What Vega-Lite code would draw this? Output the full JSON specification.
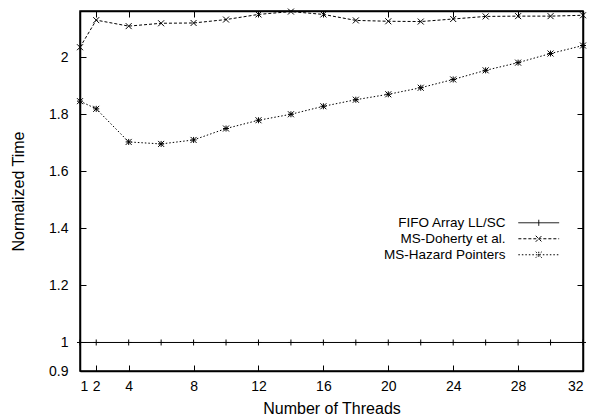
{
  "$schema": "https://vega.github.io/schema/vega-lite/v6.json",
  "width": 503,
  "height": 360,
  "autosize": "none",
  "padding": {"left": 80, "top": 11, "right": 13, "bottom": 44},
  "background": "white",
  "config": {
    "view": {"stroke": "black", "strokeWidth": 1.5},
    "font": "Liberation Sans",
    "axis": {"grid": false, "domainColor": "black", "tickColor": "black", "labelColor": "black", "titleColor": "black", "labelFont": "Liberation Sans", "titleFont": "Liberation Sans", "labelFontSize": 14, "titleFontSize": 16, "titleFontWeight": "normal", "tickSize": -6, "domainWidth": 1.5, "tickWidth": 1}
  },
  "data": {
    "values": [
      {"threads": 1, "series": "FIFO Array LL/SC", "time": 1.0},
      {"threads": 2, "series": "FIFO Array LL/SC", "time": 1.0},
      {"threads": 4, "series": "FIFO Array LL/SC", "time": 1.0},
      {"threads": 6, "series": "FIFO Array LL/SC", "time": 1.0},
      {"threads": 8, "series": "FIFO Array LL/SC", "time": 1.0},
      {"threads": 10, "series": "FIFO Array LL/SC", "time": 1.0},
      {"threads": 12, "series": "FIFO Array LL/SC", "time": 1.0},
      {"threads": 14, "series": "FIFO Array LL/SC", "time": 1.0},
      {"threads": 16, "series": "FIFO Array LL/SC", "time": 1.0},
      {"threads": 18, "series": "FIFO Array LL/SC", "time": 1.0},
      {"threads": 20, "series": "FIFO Array LL/SC", "time": 1.0},
      {"threads": 22, "series": "FIFO Array LL/SC", "time": 1.0},
      {"threads": 24, "series": "FIFO Array LL/SC", "time": 1.0},
      {"threads": 26, "series": "FIFO Array LL/SC", "time": 1.0},
      {"threads": 28, "series": "FIFO Array LL/SC", "time": 1.0},
      {"threads": 30, "series": "FIFO Array LL/SC", "time": 1.0},
      {"threads": 32, "series": "FIFO Array LL/SC", "time": 1.0},
      {"threads": 1, "series": "MS-Doherty et al.", "time": 2.035},
      {"threads": 2, "series": "MS-Doherty et al.", "time": 2.13},
      {"threads": 4, "series": "MS-Doherty et al.", "time": 2.109},
      {"threads": 6, "series": "MS-Doherty et al.", "time": 2.119},
      {"threads": 8, "series": "MS-Doherty et al.", "time": 2.12},
      {"threads": 10, "series": "MS-Doherty et al.", "time": 2.132},
      {"threads": 12, "series": "MS-Doherty et al.", "time": 2.15},
      {"threads": 14, "series": "MS-Doherty et al.", "time": 2.16},
      {"threads": 16, "series": "MS-Doherty et al.", "time": 2.15},
      {"threads": 18, "series": "MS-Doherty et al.", "time": 2.129},
      {"threads": 20, "series": "MS-Doherty et al.", "time": 2.126},
      {"threads": 22, "series": "MS-Doherty et al.", "time": 2.125},
      {"threads": 24, "series": "MS-Doherty et al.", "time": 2.134},
      {"threads": 26, "series": "MS-Doherty et al.", "time": 2.143},
      {"threads": 28, "series": "MS-Doherty et al.", "time": 2.144},
      {"threads": 30, "series": "MS-Doherty et al.", "time": 2.144},
      {"threads": 32, "series": "MS-Doherty et al.", "time": 2.147},
      {"threads": 1, "series": "MS-Hazard Pointers", "time": 1.846},
      {"threads": 2, "series": "MS-Hazard Pointers", "time": 1.819},
      {"threads": 4, "series": "MS-Hazard Pointers", "time": 1.703},
      {"threads": 6, "series": "MS-Hazard Pointers", "time": 1.696},
      {"threads": 8, "series": "MS-Hazard Pointers", "time": 1.71},
      {"threads": 10, "series": "MS-Hazard Pointers", "time": 1.75},
      {"threads": 12, "series": "MS-Hazard Pointers", "time": 1.779},
      {"threads": 14, "series": "MS-Hazard Pointers", "time": 1.8},
      {"threads": 16, "series": "MS-Hazard Pointers", "time": 1.828},
      {"threads": 18, "series": "MS-Hazard Pointers", "time": 1.851},
      {"threads": 20, "series": "MS-Hazard Pointers", "time": 1.87},
      {"threads": 22, "series": "MS-Hazard Pointers", "time": 1.893},
      {"threads": 24, "series": "MS-Hazard Pointers", "time": 1.922},
      {"threads": 26, "series": "MS-Hazard Pointers", "time": 1.954},
      {"threads": 28, "series": "MS-Hazard Pointers", "time": 1.981},
      {"threads": 30, "series": "MS-Hazard Pointers", "time": 2.013},
      {"threads": 32, "series": "MS-Hazard Pointers", "time": 2.041}
    ]
  },
  "resolve": {"axis": {"x": "independent", "y": "independent"}},
  "layer": [
    {
      "mark": {"type": "line", "color": "black", "strokeWidth": 1},
      "encoding": {
        "x": {"field": "threads", "type": "quantitative", "scale": {"domain": [1, 32], "nice": false, "zero": false},
          "axis": {"orient": "bottom", "title": "Number of Threads", "values": [1, 2, 4, 8, 12, 16, 20, 24, 28, 32], "format": "d", "labelPadding": 25.7, "labelBaseline": "alphabetic", "titleY": 42, "titleBaseline": "alphabetic"}},
        "y": {"field": "time", "type": "quantitative", "scale": {"domain": [0.9, 2.162], "nice": false, "zero": false},
          "axis": {"orient": "left", "title": "Normalized Time", "values": [0.9, 1, 1.2, 1.4, 1.6, 1.8, 2], "format": "~g", "labelPadding": 18, "titleX": -62, "titleBaseline": "middle"}},
        "strokeDash": {"field": "series", "type": "nominal",
          "scale": {"domain": ["FIFO Array LL/SC", "MS-Doherty et al.", "MS-Hazard Pointers"], "range": [[1, 0], [3, 2], [1.5, 2]]},
          "legend": {"title": null, "orient": "none", "legendX": 452, "legendY": 205, "padding": 0, "rowPadding": 1,
            "labelFontSize": 13.5, "labelFont": "Liberation Sans", "labelColor": "black", "labelAlign": "right", "labelOffset": -40,
            "symbolSize": 36, "symbolStrokeWidth": 1, "symbolStrokeColor": "black", "symbolFillColor": "transparent",
            "encode": {"symbols": {"update": {"shape": {"signal": "datum.value === 'FIFO Array LL/SC' ? 'M-6.8,0L6.8,0M0,-1L0,1' : datum.value === 'MS-Doherty et al.' ? 'M-6.8,0L6.8,0M-1,-1L1,1M-1,1L1,-1' : 'M-6.8,0L6.8,0M-1,-1L1,1M-1,1L1,-1M0,-1L0,1'"}, "fill": {"value": "transparent"}, "stroke": {"value": "black"}}}}}
        }
      }
    },
    {
      "transform": [{"filter": "datum.series === 'FIFO Array LL/SC'"}],
      "mark": {"type": "point", "filled": false, "color": "black", "strokeWidth": 1, "size": 36, "opacity": 1, "shape": "M-1,0L1,0M0,-1L0,1"},
      "encoding": {
        "x": {"field": "threads", "type": "quantitative",
          "axis": {"orient": "top", "title": null, "labels": false, "values": [1, 2, 4, 8, 12, 16, 20, 24, 28, 32]}},
        "y": {"field": "time", "type": "quantitative",
          "axis": {"orient": "right", "title": null, "labels": false, "values": [0.9, 1, 1.2, 1.4, 1.6, 1.8, 2]}}
      }
    },
    {
      "transform": [{"filter": "datum.series === 'MS-Doherty et al.'"}],
      "mark": {"type": "point", "filled": false, "color": "black", "strokeWidth": 1, "size": 36, "opacity": 1, "shape": "M-1,-1L1,1M-1,1L1,-1"},
      "encoding": {
        "x": {"field": "threads", "type": "quantitative", "axis": null},
        "y": {"field": "time", "type": "quantitative", "axis": null}
      }
    },
    {
      "transform": [{"filter": "datum.series === 'MS-Hazard Pointers'"}],
      "mark": {"type": "point", "filled": false, "color": "black", "strokeWidth": 1, "size": 36, "opacity": 1, "shape": "M-1,-1L1,1M-1,1L1,-1M-1,0L1,0M0,-1L0,1"},
      "encoding": {
        "x": {"field": "threads", "type": "quantitative", "axis": null},
        "y": {"field": "time", "type": "quantitative", "axis": null}
      }
    }
  ]
}
